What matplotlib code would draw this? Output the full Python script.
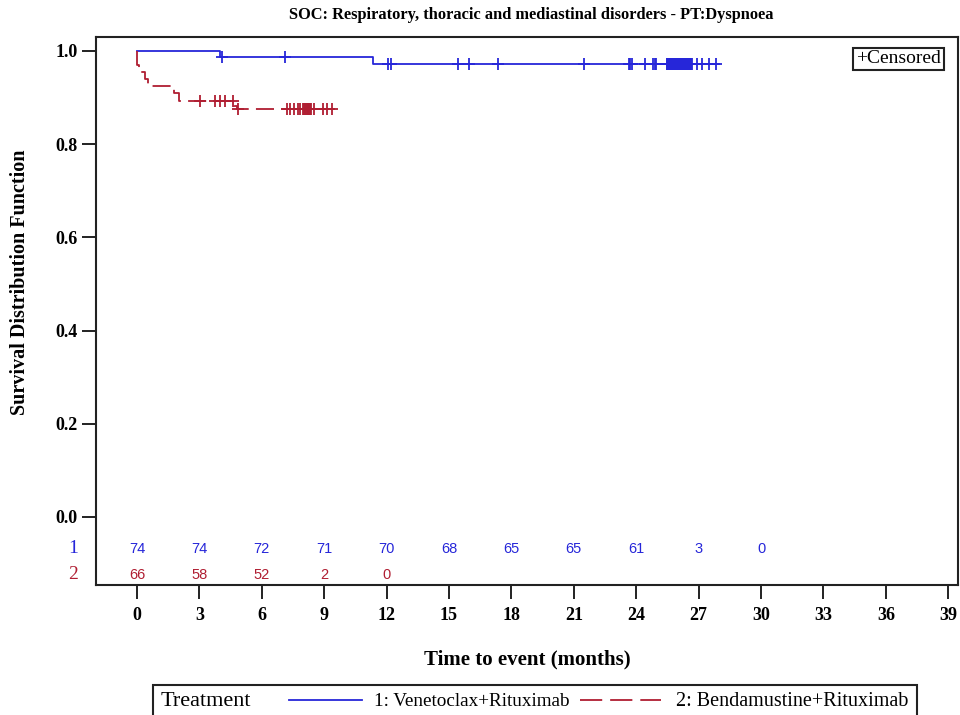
import numpy as np
import matplotlib
matplotlib.use("Agg")
import matplotlib.pyplot as plt
from matplotlib.patches import Rectangle
from matplotlib.lines import Line2D

# ---------------- data ----------------
title = "SOC: Respiratory, thoracic and mediastinal disorders - PT:Dyspnoea"
group_labels = ["1: Venetoclax+Rituximab", "2: Bendamustine+Rituximab"]

# Kaplan-Meier steps (time, survival after step); last entry = end of follow-up
blue_times = [0.0, 4.0, 11.35, 28.0]
blue_surv = [1.0, 0.9865, 0.9726, 0.9726]
blue_censor = [4.1, 7.1, 12.05, 12.2, 15.45, 15.98, 17.34, 21.5, 23.65, 23.72,
               23.8, 24.4, 24.8, 24.88, 24.97,
               25.46, 25.49, 25.52, 25.55, 25.58, 25.61, 25.64, 25.67, 25.70,
               25.73, 25.76, 25.79, 25.82, 25.85, 25.88, 25.91, 25.94, 25.97,
               26.00, 26.03, 26.06, 26.09, 26.12, 26.15, 26.18, 26.21, 26.24,
               26.27, 26.30, 26.33, 26.36, 26.39, 26.42, 26.45, 26.48, 26.51,
               26.54, 26.57, 26.60, 26.63, 26.66,
               26.9, 27.18, 27.5, 27.84]

red_times = [0.0, 0.0, 0.1, 0.4, 0.55, 1.78, 2.03, 4.66, 4.8, 9.5]
red_surv = [1.0, 0.970, 0.955, 0.939, 0.924, 0.909, 0.893, 0.882, 0.876, 0.876]
red_censor = [3.03, 3.75, 4.0, 4.25, 4.6, 4.87, 7.2, 7.35, 7.56, 7.76, 7.84,
              8.0, 8.04, 8.08, 8.12, 8.16, 8.2, 8.24, 8.28, 8.32, 8.35,
              8.5, 8.96, 9.15, 9.36]

risk_times_blue = [0, 3, 6, 9, 12, 15, 18, 21, 24, 27, 30]
risk_blue = [74, 74, 72, 71, 70, 68, 65, 65, 61, 3, 0]
risk_times_red = [0, 3, 6, 9, 12]
risk_red = [66, 58, 52, 2, 0]

x_ticks = list(range(0, 40, 3))
y_ticks = [0.0, 0.2, 0.4, 0.6, 0.8, 1.0]

# ---------------- style ----------------
BLUE = "#2626d9"
RED = "#b01e32"
DARK = "#222222"
SERIF = ["Liberation Serif", "DejaVu Serif"]
SANS = ["Liberation Sans", "DejaVu Sans"]

fig = plt.figure(figsize=(9.6, 7.15), dpi=100)
ax = fig.add_axes([96 / 960, 1 - 585 / 715, (958 - 96) / 960, (585 - 37) / 715])

ax.set_xlim(-1.97, 39.47)
ax.set_ylim(-0.146, 1.030)


def surv_at(times, surv, t):
    idx = np.searchsorted(np.asarray(times), t, side="right") - 1
    return np.asarray(surv)[idx]


ax.step(blue_times, blue_surv, where="post", color=BLUE, lw=1.3)
ax.step(red_times, red_surv, where="post", color=RED, lw=1.3,
        linestyle=(0, (10, 4)))

ax.plot(blue_censor, surv_at(blue_times, blue_surv, blue_censor), ls="none",
        marker="+", ms=9, mew=1.3, color=BLUE)
ax.plot(red_censor, surv_at(red_times, red_surv, red_censor), ls="none",
        marker="+", ms=9, mew=1.3, color=RED)

# at-risk numbers
for t, n in zip(risk_times_blue, risk_blue):
    ax.text(t, -0.0687, str(n), color=BLUE, ha="center", va="center",
            fontsize=10.5, family=SANS)
for t, n in zip(risk_times_red, risk_red):
    ax.text(t, -0.124, str(n), color=RED, ha="center", va="center",
            fontsize=10.5, family=SANS)
ax.text(-0.027, -0.0687, "1", color=BLUE, ha="center", va="center",
        fontsize=14, family=SERIF, transform=ax.get_yaxis_transform())
ax.text(-0.027, -0.124, "2", color=RED, ha="center", va="center",
        fontsize=14, family=SERIF, transform=ax.get_yaxis_transform())

# axes styling
for sp in ax.spines.values():
    sp.set_color(DARK)
    sp.set_linewidth(1.5)
ax.set_xticks(x_ticks)
ax.set_xticklabels([str(v) for v in x_ticks])
ax.set_yticks(y_ticks)
ax.set_yticklabels([f"{v:.1f}" for v in y_ticks])
ax.tick_params(axis="both", direction="out", length=10, width=1.4, color=DARK,
               labelsize=13)
ax.tick_params(axis="x", pad=6)
ax.tick_params(axis="y", pad=3)
for lab in ax.get_xticklabels() + ax.get_yticklabels():
    lab.set_family(SERIF)
    lab.set_fontweight("bold")

ax.set_xlabel("Time to event (months)", family=SERIF, fontsize=15,
              fontweight="bold", labelpad=18)
ax.set_ylabel("Survival Distribution Function", family=SERIF, fontsize=14.5,
              fontweight="bold")
ax.yaxis.set_label_coords(-0.077, 0.553)

fig.text(531 / 960, 1 - 15 / 715, title, ha="center", va="center",
         family=SERIF, fontsize=11.8, fontweight="bold")

# censored legend box
ax.text(0.931, 0.960, "+Censored", transform=ax.transAxes, ha="center",
        va="center", family=SERIF, fontsize=14,
        bbox=dict(boxstyle="square,pad=0.15", fc="white", ec=DARK, lw=1.5))

# bottom legend
fig.patches.append(Rectangle((153 / 960, -0.01), (917 - 153) / 960,
                             (30 / 715) + 0.01, transform=fig.transFigure,
                             fill=False, ec=DARK, lw=1.5))
ly = 1 - 701 / 715
fig.text(161 / 960, ly, "Treatment", family=SERIF, fontsize=16,
         ha="left", va="center")
fig.lines.append(Line2D([289 / 960, 362 / 960], [ly + 0.002, ly + 0.002],
                        transform=fig.transFigure, color=BLUE, lw=1.3))
fig.text(374 / 960, ly, group_labels[0], family=SERIF, fontsize=13.8,
         ha="left", va="center")
fig.lines.append(Line2D([580 / 960, 661 / 960], [ly + 0.002, ly + 0.002],
                        transform=fig.transFigure, color=RED, lw=1.3,
                        linestyle=(0, (12.3, 4.4))))
fig.text(676 / 960, ly, group_labels[1], family=SERIF, fontsize=14.5,
         ha="left", va="center")

fig.savefig("out.png", dpi=100)
